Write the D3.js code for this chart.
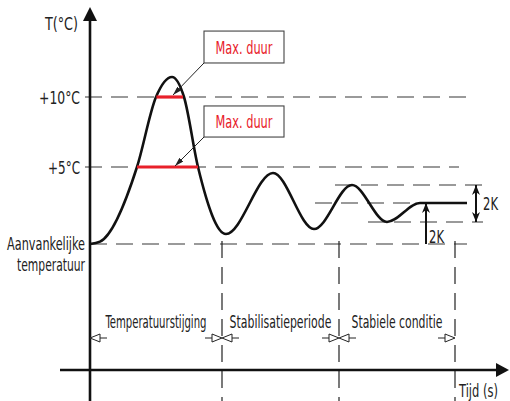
<!DOCTYPE html>
<html>
<head>
<meta charset="utf-8">
<script src="https://cdn.jsdelivr.net/npm/d3@7"></script>
<style>
  body { margin: 0; background: #fff; }
  text { font-family: "Liberation Sans Narrow", "DejaVu Sans Condensed", "Liberation Sans", sans-serif; fill: #222; }
</style>
</head>
<body>
<div id="chart"></div>
<script>
// temperature curve (time in s, temperature in degC above the start value)
const curveTime = [0, 5, 23.5, 33, 41, 47, 54, 68, 91.5, 112, 131, 148.5, 165, 188.5];
const curveTemp = [0, 0.15, 5, 10, 11.43, 10, 5, 0.65, 4.61, 0.97, 3.83, 1.43, 2.66, 2.66];

// dashed guide lines
const guideTemp  = [10, 5, 0, 3.83, 2.66, 1.43];
const guideStart = [-2.5, -2.5, 0, 122.5, 112.5, 139];
const guideEnd   = [189.5, 184.5, 188.5, 196.5, 186, 196.5];

// y tick labels
const tickTemp   = [10, 5];
const tickLabels = ["+10°C", "+5°C"];

// max duration bars
const maxTemp  = [10, 5];
const maxStart = [33.2, 23.5];
const maxEnd   = [46.5, 54];
const maxTipT  = [41.5, 42.5];
const maxTipV  = [10.14, 5.07];
const maxBoxTop    = [14.71, 9.36];
const maxBoxBottom = [12.43, 7.14];
const maxBoxFrom = 57, maxBoxTo = 97;

// periods
const periodBounds = [0, 66, 124.5, 182.5];
const periodLabels = ["Temperatuurstijging", "Stabilisatieperiode", "Stabiele conditie"];

// stable band (2K)
const bandHigh = 3.83, bandLow = 1.43, stableTemp = 2.66;
const bandArrowT = 193, stableArrowT = 168;

const width = 510, height = 401;
const originY = 370, periodY = 338;
const red = "#e8202a";

let x = d3.scaleLinear().domain([0, 205]).range([90, 500]);
let y = d3.scaleLinear().domain([0, 5, 10]).range([244, 167, 97]);

let svg = d3.select("#chart")
    .append("svg")
    .attr("width", width)
    .attr("height", height);

let defs = svg.append("defs");
defs.append("marker")
    .attr("id", "lead")
    .attr("viewBox", "0 0 10 6")
    .attr("refX", 10).attr("refY", 3)
    .attr("markerWidth", 9).attr("markerHeight", 5.4)
    .attr("markerUnits", "userSpaceOnUse")
    .attr("orient", "auto")
    .append("path").attr("d", "M0,0L10,3L0,6z").attr("fill", "#222");
defs.append("marker")
    .attr("id", "solid")
    .attr("viewBox", "0 0 10 8")
    .attr("refX", 10).attr("refY", 4)
    .attr("markerWidth", 11).attr("markerHeight", 8)
    .attr("markerUnits", "userSpaceOnUse")
    .attr("orient", "auto-start-reverse")
    .append("path").attr("d", "M0,0L10,4L0,8L3,4z").attr("fill", "#111");

// condensed label: squeeze the text horizontally to the width seen in the picture
function label(str, px, py, len, anchor, size, color) {
    let g = svg.append("g");
    let t = g.append("text")
        .attr("text-anchor", anchor || "start")
        .style("font-size", (size || 17) + "px")
        .text(str);
    if (color) t.style("fill", color);
    let w = t.node().getComputedTextLength();
    let sx = len ? len / w : 1;
    g.attr("transform", `translate(${px},${py}) scale(${sx},1)`);
    return t;
}

// horizontal guides
svg.append("g").selectAll("line")
    .data(guideTemp)
    .join("line")
    .attr("x1", (d, i) => x(guideStart[i]))
    .attr("x2", (d, i) => x(guideEnd[i]))
    .attr("y1", d => y(d)).attr("y2", d => y(d))
    .attr("stroke", "#7a7a7a")
    .attr("stroke-width", 1.6)
    .attr("stroke-dasharray", "17,9");

// vertical period guides
svg.append("g").selectAll("line")
    .data(periodBounds.slice(1))
    .join("line")
    .attr("x1", d => x(d)).attr("x2", d => x(d))
    .attr("y1", 241).attr("y2", height)
    .attr("stroke", "#222")
    .attr("stroke-width", 1.2)
    .attr("stroke-dasharray", "17,9");

// axes
svg.append("line")
    .attr("x1", x(0)).attr("x2", x(0))
    .attr("y1", 18).attr("y2", height)
    .attr("stroke", "#111").attr("stroke-width", 2.6);
svg.append("path")
    .attr("d", `M${x(0)},7L${x(0) + 7},21L${x(0) - 7},21Z`)
    .attr("fill", "#111");
svg.append("line")
    .attr("x1", 60).attr("x2", 500)
    .attr("y1", originY).attr("y2", originY)
    .attr("stroke", "#111").attr("stroke-width", 2.6);
svg.append("path")
    .attr("d", `M509,${originY}L496,${originY - 7}L496,${originY + 7}Z`)
    .attr("fill", "#111");

// curve
let line = d3.line()
    .x(d => x(d[0]))
    .y(d => y(d[1]))
    .curve(d3.curveMonotoneX);
svg.append("path")
    .datum(curveTime.map((t, i) => [t, curveTemp[i]]))
    .attr("d", line)
    .attr("fill", "none")
    .attr("stroke", "#111")
    .attr("stroke-width", 2.6);

// max duration bars + boxes
svg.append("g").selectAll("line")
    .data(maxTemp)
    .join("line")
    .attr("x1", (d, i) => x(maxStart[i]))
    .attr("x2", (d, i) => x(maxEnd[i]))
    .attr("y1", d => y(d)).attr("y2", d => y(d))
    .attr("stroke", red)
    .attr("stroke-width", 3.2);

maxTemp.forEach((d, i) => {
    let top = y(maxBoxTop[i]), bot = y(maxBoxBottom[i]);
    svg.append("rect")
        .attr("x", x(maxBoxFrom)).attr("y", top)
        .attr("width", x(maxBoxTo) - x(maxBoxFrom))
        .attr("height", bot - top)
        .attr("fill", "#fff")
        .attr("stroke", "#444").attr("stroke-width", 1.1);
    label("Max. duur", (x(maxBoxFrom) + x(maxBoxTo)) / 2, (top + bot) / 2 + 6.5, 57, "middle", 18, red);
    svg.append("line")
        .attr("x1", x(maxBoxFrom)).attr("y1", bot)
        .attr("x2", x(maxTipT[i])).attr("y2", y(maxTipV[i]))
        .attr("stroke", "#222").attr("stroke-width", 1)
        .attr("marker-end", "url(#lead)");
});

// 2K arrows
svg.append("line")
    .attr("x1", x(bandArrowT)).attr("x2", x(bandArrowT))
    .attr("y1", y(bandHigh)).attr("y2", y(bandLow))
    .attr("stroke", "#111").attr("stroke-width", 2)
    .attr("marker-start", "url(#solid)")
    .attr("marker-end", "url(#solid)");
svg.append("line")
    .attr("x1", x(stableArrowT)).attr("x2", x(stableArrowT))
    .attr("y1", y(0)).attr("y2", y(stableTemp))
    .attr("stroke", "#111").attr("stroke-width", 2)
    .attr("marker-end", "url(#solid)");
label("2K", x(bandArrowT) + 7, (y(bandHigh) + y(bandLow)) / 2 + 7, 15, "start", 18);
label("2K", x(stableArrowT) + 3, y(0) - 1, 15, "start", 18);

// period arrows
function periodArrow(px, dir) {
    // dir = -1 points left, +1 points right
    let b = px - dir * 10;
    svg.append("path")
        .attr("d", `M${px},${periodY}L${b},${periodY - 4}L${b},${periodY + 4}Z`)
        .attr("fill", "#fff").attr("stroke", "#222").attr("stroke-width", 1);
    svg.append("line")
        .attr("x1", b).attr("x2", b - dir * 7)
        .attr("y1", periodY).attr("y2", periodY)
        .attr("stroke", "#222").attr("stroke-width", 1);
}
periodBounds.forEach((t, i) => {
    if (i > 0) periodArrow(x(t), 1);
    if (i < periodBounds.length - 1) periodArrow(x(t), -1);
});
const periodLens = [101, 102, 91];
periodLabels.forEach((s, i) => {
    label(s, (x(periodBounds[i]) + x(periodBounds[i + 1])) / 2, periodY - 10, periodLens[i], "middle", 17);
});

// axis labels
label("T(°C)", 45, 30, 33, "start", 18);
tickLabels.forEach((s, i) => {
    label(s, 80, y(tickTemp[i]) + 6.5, s.length > 4 ? 41 : 32, "end", 18);
});
label("Aanvankelijke", 85, 250, 78, "end", 17);
label("temperatuur", 85, 271, 68, "end", 17);
label("Tijd (s)", 459, 397, 39, "start", 17);
</script>
</body>
</html>
